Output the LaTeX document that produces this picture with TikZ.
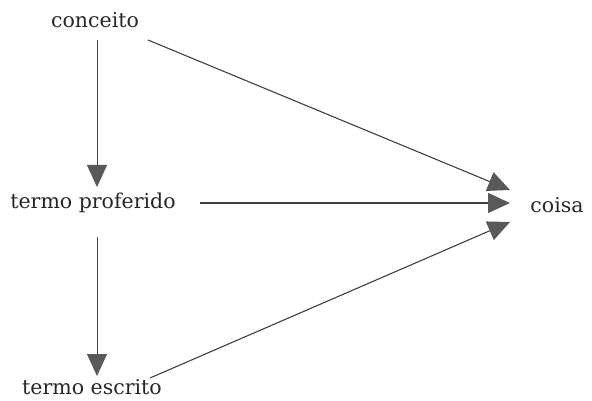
\documentclass[tikz,border=0pt]{standalone}
\usepackage{fontspec}
\setmainfont{DejaVu Serif}
\usetikzlibrary{arrows.meta,calc}

\tikzset{
  termo/.style={inner sep=0pt, font=\fontsize{20.5}{24}\selectfont, text=black!85},
  seta/.style={draw=black!75, line width=1.1pt, -{Triangle[width=20pt,length=22pt,fill=black!65,color=black!65]}},
  setafina/.style={seta, line width=0.8pt}
}

\begin{document}
\begin{tikzpicture}[x=1pt,y=-1pt]
\useasboundingbox (0,0) rectangle (592,401);

% termos
\node[termo] (conceito) at (95,20) {conceito};
\node[termo] (proferido) at (93,203) {termo proferido};
\node[termo] (escrito) at (92,387) {termo escrito};
\node[termo] (coisa) at (557,205) {coisa};

% setas verticais
\draw[setafina] ($(conceito)+(2,20)$)--($(proferido)+(4,-16)$);
\draw[setafina] ($(proferido)+(4,34)$)--($(escrito)+(5,-11)$);

% setas para a coisa
\draw[seta] ($(conceito)+(53,20)$)--($(coisa)+(-47,-15)$);
\draw[seta] ($(proferido)+(107,0)$)--($(coisa)+(-47,-2)$);
\draw[seta] ($(escrito)+(58,-9)$)--($(coisa)+(-47,17)$);

\end{tikzpicture}
\end{document}
